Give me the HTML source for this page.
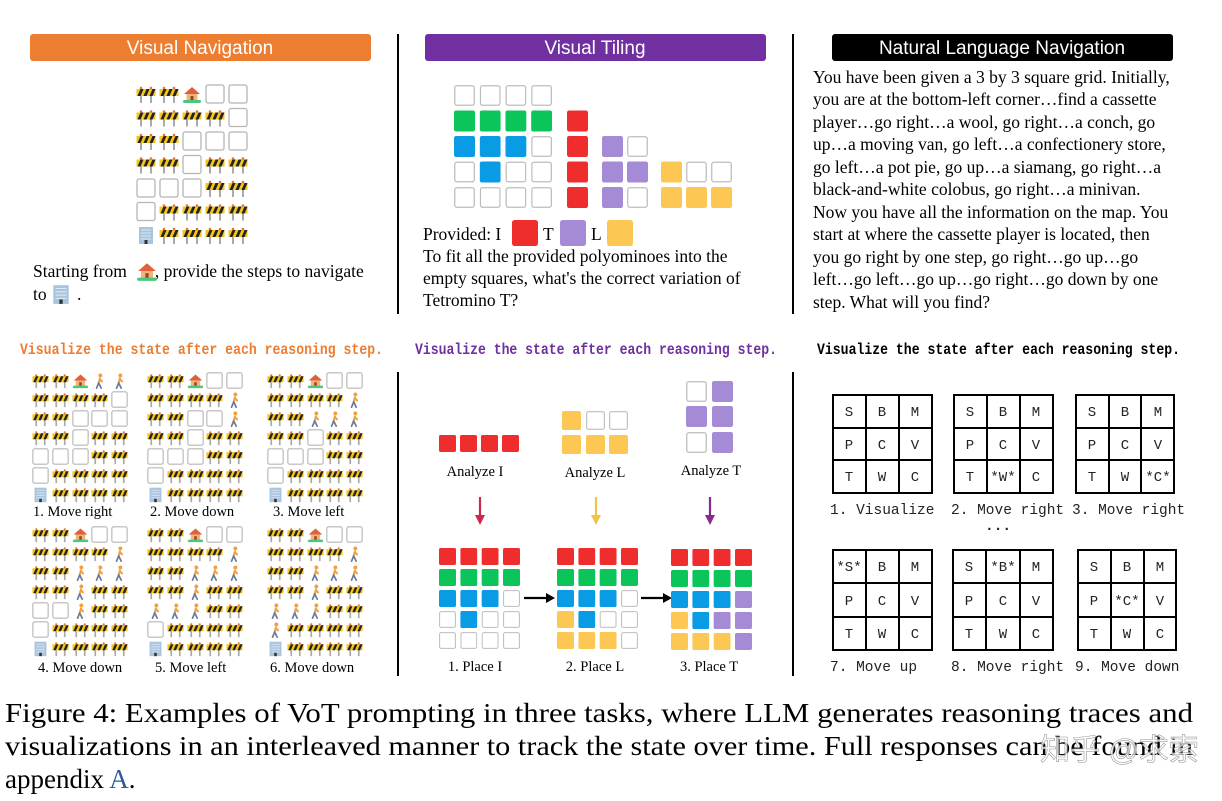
<!DOCTYPE html>
<html><head><meta charset="utf-8"><style>
html,body{margin:0;padding:0;background:#fff;}
svg{display:block;}
.s{font-family:"Liberation Serif",serif;}
.m{font-family:"Liberation Mono",monospace;}
</style></head><body>
<svg width="1222" height="801" viewBox="0 0 1222 801" xmlns="http://www.w3.org/2000/svg">
<defs>
<symbol id="e" viewBox="0 0 20 20"><rect x="1" y="1" width="18" height="18" rx="2" fill="#fff" stroke="#b5b5b5" stroke-width="1.3"/></symbol>
<symbol id="b" viewBox="0 0 20 20"><rect x="4" y="8" width="2" height="11" fill="#aaa"/><rect x="14" y="8" width="2" height="11" fill="#aaa"/><rect x="0.5" y="5" width="19" height="7" fill="#f5c518"/><path d="M1.5 12 L4.5 5 H7.5 L4.5 12Z M7.5 12 L10.5 5 H13.5 L10.5 12Z M13.5 12 L16.5 5 H19.5 L16.5 12Z" fill="#222"/><circle cx="5" cy="4" r="1.3" fill="#e8703a"/><circle cx="15" cy="4" r="1.3" fill="#e8703a"/></symbol>
<symbol id="h" viewBox="0 0 20 20"><path d="M2 10 L10 3 L18 10Z" fill="#e0603a"/><rect x="4.5" y="10" width="11" height="7" fill="#f3b27a"/><rect x="8.5" y="12" width="3" height="5" fill="#8a4b2a"/><rect x="1" y="16" width="18" height="3" rx="1.5" fill="#4cc77b"/></symbol>
<symbol id="p" viewBox="0 0 20 20"><circle cx="11" cy="4" r="2.3" fill="#f0a040"/><path d="M10.5 7.5 L9 13 M10.5 8.5 L13 11" stroke="#f0a040" stroke-width="2.4" fill="none" stroke-linecap="round"/><path d="M9 13 L6.5 19 M9 13 L12 19" stroke="#6a7a9a" stroke-width="2" fill="none" stroke-linecap="round"/></symbol>
<symbol id="o" viewBox="0 0 20 20"><rect x="3" y="2" width="14" height="17" fill="#a9c4dd"/><path d="M5 5H15M5 8H15M5 11H15M5 14H15" stroke="#dde9f4" stroke-width="1"/><rect x="8.5" y="15" width="3" height="4" fill="#333"/></symbol>
<symbol id="R" viewBox="0 0 20 20"><rect x="0" y="0" width="20" height="20" rx="2" fill="#f02d2d"/></symbol>
<symbol id="G" viewBox="0 0 20 20"><rect x="0" y="0" width="20" height="20" rx="2" fill="#0bc55b"/></symbol>
<symbol id="U" viewBox="0 0 20 20"><rect x="0" y="0" width="20" height="20" rx="2" fill="#0a9be5"/></symbol>
<symbol id="P" viewBox="0 0 20 20"><rect x="0" y="0" width="20" height="20" rx="2" fill="#a58bd6"/></symbol>
<symbol id="Y" viewBox="0 0 20 20"><rect x="0" y="0" width="20" height="20" rx="2" fill="#fcc753"/></symbol>
<symbol id="E" viewBox="0 0 20 20"><rect x="0.7" y="0.7" width="18.6" height="18.6" rx="2" fill="#fff" stroke="#bdbdbd" stroke-width="1.2"/></symbol>
</defs>

<rect x="30" y="34" width="341" height="27" rx="3" fill="#ed7d31"/>
<text x="200" y="54" text-anchor="middle" font-family="Liberation Sans, sans-serif" font-size="19" fill="#fff">Visual Navigation</text>
<rect x="425" y="34" width="341" height="27" rx="3" fill="#7030a0"/>
<text x="595" y="54" text-anchor="middle" font-family="Liberation Sans, sans-serif" font-size="19" fill="#fff">Visual Tiling</text>
<rect x="832" y="34" width="341" height="27" rx="3" fill="#000"/>
<text x="1002" y="54" text-anchor="middle" font-family="Liberation Sans, sans-serif" font-size="19" fill="#fff">Natural Language Navigation</text>

<line x1="398" y1="34" x2="398" y2="314" stroke="#000" stroke-width="2"/>
<line x1="793" y1="34" x2="793" y2="314" stroke="#000" stroke-width="2"/>
<line x1="398" y1="372" x2="398" y2="676" stroke="#000" stroke-width="2"/>
<line x1="793" y1="372" x2="793" y2="676" stroke="#000" stroke-width="2"/>

<g transform="translate(136,84)">
<use href="#b" x="0" y="0" width="20" height="20"/><use href="#b" x="23" y="0" width="20" height="20"/><use href="#h" x="46" y="0" width="20" height="20"/><use href="#e" x="69" y="0" width="20" height="20"/><use href="#e" x="92" y="0" width="20" height="20"/>
<use href="#b" x="0" y="23.5" width="20" height="20"/><use href="#b" x="23" y="23.5" width="20" height="20"/><use href="#b" x="46" y="23.5" width="20" height="20"/><use href="#b" x="69" y="23.5" width="20" height="20"/><use href="#e" x="92" y="23.5" width="20" height="20"/>
<use href="#b" x="0" y="47" width="20" height="20"/><use href="#b" x="23" y="47" width="20" height="20"/><use href="#e" x="46" y="47" width="20" height="20"/><use href="#e" x="69" y="47" width="20" height="20"/><use href="#e" x="92" y="47" width="20" height="20"/>
<use href="#b" x="0" y="70.5" width="20" height="20"/><use href="#b" x="23" y="70.5" width="20" height="20"/><use href="#e" x="46" y="70.5" width="20" height="20"/><use href="#b" x="69" y="70.5" width="20" height="20"/><use href="#b" x="92" y="70.5" width="20" height="20"/>
<use href="#e" x="0" y="94" width="20" height="20"/><use href="#e" x="23" y="94" width="20" height="20"/><use href="#e" x="46" y="94" width="20" height="20"/><use href="#b" x="69" y="94" width="20" height="20"/><use href="#b" x="92" y="94" width="20" height="20"/>
<use href="#e" x="0" y="117.5" width="20" height="20"/><use href="#b" x="23" y="117.5" width="20" height="20"/><use href="#b" x="46" y="117.5" width="20" height="20"/><use href="#b" x="69" y="117.5" width="20" height="20"/><use href="#b" x="92" y="117.5" width="20" height="20"/>
<use href="#o" x="0" y="141" width="20" height="20"/><use href="#b" x="23" y="141" width="20" height="20"/><use href="#b" x="46" y="141" width="20" height="20"/><use href="#b" x="69" y="141" width="20" height="20"/><use href="#b" x="92" y="141" width="20" height="20"/>
</g>
<text class="s" x="33" y="277" font-size="17.5">Starting from<tspan dx="28">, provide the steps to navigate</tspan></text>
<use href="#h" x="136" y="260" width="22" height="22"/>
<text class="s" x="33" y="300" font-size="17.5">to <tspan dx="26">.</tspan></text>
<use href="#o" x="50" y="283" width="22" height="22"/>

<g transform="translate(454,85)">
<use href="#E" x="0" y="0" width="21" height="21"/><use href="#E" x="25.7" y="0" width="21" height="21"/><use href="#E" x="51.4" y="0" width="21" height="21"/><use href="#E" x="77.1" y="0" width="21" height="21"/>
<use href="#G" x="0" y="25.5" width="21" height="21"/><use href="#G" x="25.7" y="25.5" width="21" height="21"/><use href="#G" x="51.4" y="25.5" width="21" height="21"/><use href="#G" x="77.1" y="25.5" width="21" height="21"/>
<use href="#U" x="0" y="51" width="21" height="21"/><use href="#U" x="25.7" y="51" width="21" height="21"/><use href="#U" x="51.4" y="51" width="21" height="21"/><use href="#E" x="77.1" y="51" width="21" height="21"/>
<use href="#E" x="0" y="76.5" width="21" height="21"/><use href="#U" x="25.7" y="76.5" width="21" height="21"/><use href="#E" x="51.4" y="76.5" width="21" height="21"/><use href="#E" x="77.1" y="76.5" width="21" height="21"/>
<use href="#E" x="0" y="102" width="21" height="21"/><use href="#E" x="25.7" y="102" width="21" height="21"/><use href="#E" x="51.4" y="102" width="21" height="21"/><use href="#E" x="77.1" y="102" width="21" height="21"/>
<use href="#R" x="113" y="25.5" width="21" height="21"/><use href="#R" x="113" y="51" width="21" height="21"/><use href="#R" x="113" y="76.5" width="21" height="21"/><use href="#R" x="113" y="102" width="21" height="21"/>
<use href="#P" x="148" y="51" width="21" height="21"/><use href="#E" x="173" y="51" width="21" height="21"/>
<use href="#P" x="148" y="76.5" width="21" height="21"/><use href="#P" x="173" y="76.5" width="21" height="21"/>
<use href="#P" x="148" y="102" width="21" height="21"/><use href="#E" x="173" y="102" width="21" height="21"/>
<use href="#Y" x="207" y="76.5" width="21" height="21"/><use href="#E" x="232" y="76.5" width="21" height="21"/><use href="#E" x="257" y="76.5" width="21" height="21"/>
<use href="#Y" x="207" y="102" width="21" height="21"/><use href="#Y" x="232" y="102" width="21" height="21"/><use href="#Y" x="257" y="102" width="21" height="21"/>
</g>
<text class="s" x="423" y="240" font-size="17.5">Provided: I</text>
<use href="#R" x="512" y="220" width="26" height="26"/>
<text class="s" x="543" y="240" font-size="17.5">T</text>
<use href="#P" x="560" y="220" width="26" height="26"/>
<text class="s" x="591" y="240" font-size="17.5">L</text>
<use href="#Y" x="607" y="220" width="26" height="26"/>
<text class="s" x="423" y="262" font-size="17.5">To fit all the provided polyominoes into the</text>
<text class="s" x="423" y="284" font-size="17.5">empty squares, what's the correct variation of</text>
<text class="s" x="423" y="306" font-size="17.5">Tetromino T?</text>

<g class="s" font-size="17.5">
<text x="813" y="83">You have been given a 3 by 3 square grid. Initially,</text>
<text x="813" y="105">you are at the bottom-left corner…find a cassette</text>
<text x="813" y="128">player…go right…a wool, go right…a conch, go</text>
<text x="813" y="150">up…a moving van, go left…a confectionery store,</text>
<text x="813" y="173">go left…a pot pie, go up…a siamang, go right…a</text>
<text x="813" y="195">black-and-white colobus, go right…a minivan.</text>
<text x="813" y="218">Now you have all the information on the map. You</text>
<text x="813" y="240">start at where the cassette player is located, then</text>
<text x="813" y="263">you go right by one step, go right…go up…go</text>
<text x="813" y="285">left…go left…go up…go right…go down by one</text>
<text x="813" y="308">step. What will you find?</text>
</g>

<text class="m" x="20" y="354" font-size="15.5" font-weight="bold" fill="#ed7d31" textLength="363" lengthAdjust="spacingAndGlyphs">Visualize the state after each reasoning step.</text>
<text class="m" x="415" y="354" font-size="15.5" font-weight="bold" fill="#7030a0" textLength="362" lengthAdjust="spacingAndGlyphs">Visualize the state after each reasoning step.</text>
<text class="m" x="817" y="354" font-size="15.5" font-weight="bold" fill="#000" textLength="363" lengthAdjust="spacingAndGlyphs">Visualize the state after each reasoning step.</text>

<g transform="translate(32,372)">
<use href="#b" x="0" y="0" width="17" height="17"/><use href="#b" x="20" y="0" width="17" height="17"/><use href="#h" x="40" y="0" width="17" height="17"/><use href="#p" x="59" y="0" width="17" height="17"/><use href="#p" x="79" y="0" width="17" height="17"/>
<use href="#b" x="0" y="19" width="17" height="17"/><use href="#b" x="20" y="19" width="17" height="17"/><use href="#b" x="40" y="19" width="17" height="17"/><use href="#b" x="59" y="19" width="17" height="17"/><use href="#e" x="79" y="19" width="17" height="17"/>
<use href="#b" x="0" y="38" width="17" height="17"/><use href="#b" x="20" y="38" width="17" height="17"/><use href="#e" x="40" y="38" width="17" height="17"/><use href="#e" x="59" y="38" width="17" height="17"/><use href="#e" x="79" y="38" width="17" height="17"/>
<use href="#b" x="0" y="57" width="17" height="17"/><use href="#b" x="20" y="57" width="17" height="17"/><use href="#e" x="40" y="57" width="17" height="17"/><use href="#b" x="59" y="57" width="17" height="17"/><use href="#b" x="79" y="57" width="17" height="17"/>
<use href="#e" x="0" y="76" width="17" height="17"/><use href="#e" x="20" y="76" width="17" height="17"/><use href="#e" x="40" y="76" width="17" height="17"/><use href="#b" x="59" y="76" width="17" height="17"/><use href="#b" x="79" y="76" width="17" height="17"/>
<use href="#e" x="0" y="95" width="17" height="17"/><use href="#b" x="20" y="95" width="17" height="17"/><use href="#b" x="40" y="95" width="17" height="17"/><use href="#b" x="59" y="95" width="17" height="17"/><use href="#b" x="79" y="95" width="17" height="17"/>
<use href="#o" x="0" y="114" width="17" height="17"/><use href="#b" x="20" y="114" width="17" height="17"/><use href="#b" x="40" y="114" width="17" height="17"/><use href="#b" x="59" y="114" width="17" height="17"/><use href="#b" x="79" y="114" width="17" height="17"/>
</g>
<g transform="translate(147,372)">
<use href="#b" x="0" y="0" width="17" height="17"/><use href="#b" x="20" y="0" width="17" height="17"/><use href="#h" x="40" y="0" width="17" height="17"/><use href="#e" x="59" y="0" width="17" height="17"/><use href="#e" x="79" y="0" width="17" height="17"/>
<use href="#b" x="0" y="19" width="17" height="17"/><use href="#b" x="20" y="19" width="17" height="17"/><use href="#b" x="40" y="19" width="17" height="17"/><use href="#b" x="59" y="19" width="17" height="17"/><use href="#p" x="79" y="19" width="17" height="17"/>
<use href="#b" x="0" y="38" width="17" height="17"/><use href="#b" x="20" y="38" width="17" height="17"/><use href="#e" x="40" y="38" width="17" height="17"/><use href="#e" x="59" y="38" width="17" height="17"/><use href="#p" x="79" y="38" width="17" height="17"/>
<use href="#b" x="0" y="57" width="17" height="17"/><use href="#b" x="20" y="57" width="17" height="17"/><use href="#e" x="40" y="57" width="17" height="17"/><use href="#b" x="59" y="57" width="17" height="17"/><use href="#b" x="79" y="57" width="17" height="17"/>
<use href="#e" x="0" y="76" width="17" height="17"/><use href="#e" x="20" y="76" width="17" height="17"/><use href="#e" x="40" y="76" width="17" height="17"/><use href="#b" x="59" y="76" width="17" height="17"/><use href="#b" x="79" y="76" width="17" height="17"/>
<use href="#e" x="0" y="95" width="17" height="17"/><use href="#b" x="20" y="95" width="17" height="17"/><use href="#b" x="40" y="95" width="17" height="17"/><use href="#b" x="59" y="95" width="17" height="17"/><use href="#b" x="79" y="95" width="17" height="17"/>
<use href="#o" x="0" y="114" width="17" height="17"/><use href="#b" x="20" y="114" width="17" height="17"/><use href="#b" x="40" y="114" width="17" height="17"/><use href="#b" x="59" y="114" width="17" height="17"/><use href="#b" x="79" y="114" width="17" height="17"/>
</g>
<g transform="translate(267,372)">
<use href="#b" x="0" y="0" width="17" height="17"/><use href="#b" x="20" y="0" width="17" height="17"/><use href="#h" x="40" y="0" width="17" height="17"/><use href="#e" x="59" y="0" width="17" height="17"/><use href="#e" x="79" y="0" width="17" height="17"/>
<use href="#b" x="0" y="19" width="17" height="17"/><use href="#b" x="20" y="19" width="17" height="17"/><use href="#b" x="40" y="19" width="17" height="17"/><use href="#b" x="59" y="19" width="17" height="17"/><use href="#p" x="79" y="19" width="17" height="17"/>
<use href="#b" x="0" y="38" width="17" height="17"/><use href="#b" x="20" y="38" width="17" height="17"/><use href="#p" x="40" y="38" width="17" height="17"/><use href="#p" x="59" y="38" width="17" height="17"/><use href="#p" x="79" y="38" width="17" height="17"/>
<use href="#b" x="0" y="57" width="17" height="17"/><use href="#b" x="20" y="57" width="17" height="17"/><use href="#e" x="40" y="57" width="17" height="17"/><use href="#b" x="59" y="57" width="17" height="17"/><use href="#b" x="79" y="57" width="17" height="17"/>
<use href="#e" x="0" y="76" width="17" height="17"/><use href="#e" x="20" y="76" width="17" height="17"/><use href="#e" x="40" y="76" width="17" height="17"/><use href="#b" x="59" y="76" width="17" height="17"/><use href="#b" x="79" y="76" width="17" height="17"/>
<use href="#e" x="0" y="95" width="17" height="17"/><use href="#b" x="20" y="95" width="17" height="17"/><use href="#b" x="40" y="95" width="17" height="17"/><use href="#b" x="59" y="95" width="17" height="17"/><use href="#b" x="79" y="95" width="17" height="17"/>
<use href="#o" x="0" y="114" width="17" height="17"/><use href="#b" x="20" y="114" width="17" height="17"/><use href="#b" x="40" y="114" width="17" height="17"/><use href="#b" x="59" y="114" width="17" height="17"/><use href="#b" x="79" y="114" width="17" height="17"/>
</g>
<g transform="translate(32,526)">
<use href="#b" x="0" y="0" width="17" height="17"/><use href="#b" x="20" y="0" width="17" height="17"/><use href="#h" x="40" y="0" width="17" height="17"/><use href="#e" x="59" y="0" width="17" height="17"/><use href="#e" x="79" y="0" width="17" height="17"/>
<use href="#b" x="0" y="19" width="17" height="17"/><use href="#b" x="20" y="19" width="17" height="17"/><use href="#b" x="40" y="19" width="17" height="17"/><use href="#b" x="59" y="19" width="17" height="17"/><use href="#p" x="79" y="19" width="17" height="17"/>
<use href="#b" x="0" y="38" width="17" height="17"/><use href="#b" x="20" y="38" width="17" height="17"/><use href="#p" x="40" y="38" width="17" height="17"/><use href="#p" x="59" y="38" width="17" height="17"/><use href="#p" x="79" y="38" width="17" height="17"/>
<use href="#b" x="0" y="57" width="17" height="17"/><use href="#b" x="20" y="57" width="17" height="17"/><use href="#p" x="40" y="57" width="17" height="17"/><use href="#b" x="59" y="57" width="17" height="17"/><use href="#b" x="79" y="57" width="17" height="17"/>
<use href="#e" x="0" y="76" width="17" height="17"/><use href="#e" x="20" y="76" width="17" height="17"/><use href="#p" x="40" y="76" width="17" height="17"/><use href="#b" x="59" y="76" width="17" height="17"/><use href="#b" x="79" y="76" width="17" height="17"/>
<use href="#e" x="0" y="95" width="17" height="17"/><use href="#b" x="20" y="95" width="17" height="17"/><use href="#b" x="40" y="95" width="17" height="17"/><use href="#b" x="59" y="95" width="17" height="17"/><use href="#b" x="79" y="95" width="17" height="17"/>
<use href="#o" x="0" y="114" width="17" height="17"/><use href="#b" x="20" y="114" width="17" height="17"/><use href="#b" x="40" y="114" width="17" height="17"/><use href="#b" x="59" y="114" width="17" height="17"/><use href="#b" x="79" y="114" width="17" height="17"/>
</g>
<g transform="translate(147,526)">
<use href="#b" x="0" y="0" width="17" height="17"/><use href="#b" x="20" y="0" width="17" height="17"/><use href="#h" x="40" y="0" width="17" height="17"/><use href="#e" x="59" y="0" width="17" height="17"/><use href="#e" x="79" y="0" width="17" height="17"/>
<use href="#b" x="0" y="19" width="17" height="17"/><use href="#b" x="20" y="19" width="17" height="17"/><use href="#b" x="40" y="19" width="17" height="17"/><use href="#b" x="59" y="19" width="17" height="17"/><use href="#p" x="79" y="19" width="17" height="17"/>
<use href="#b" x="0" y="38" width="17" height="17"/><use href="#b" x="20" y="38" width="17" height="17"/><use href="#p" x="40" y="38" width="17" height="17"/><use href="#p" x="59" y="38" width="17" height="17"/><use href="#p" x="79" y="38" width="17" height="17"/>
<use href="#b" x="0" y="57" width="17" height="17"/><use href="#b" x="20" y="57" width="17" height="17"/><use href="#p" x="40" y="57" width="17" height="17"/><use href="#b" x="59" y="57" width="17" height="17"/><use href="#b" x="79" y="57" width="17" height="17"/>
<use href="#p" x="0" y="76" width="17" height="17"/><use href="#p" x="20" y="76" width="17" height="17"/><use href="#p" x="40" y="76" width="17" height="17"/><use href="#b" x="59" y="76" width="17" height="17"/><use href="#b" x="79" y="76" width="17" height="17"/>
<use href="#e" x="0" y="95" width="17" height="17"/><use href="#b" x="20" y="95" width="17" height="17"/><use href="#b" x="40" y="95" width="17" height="17"/><use href="#b" x="59" y="95" width="17" height="17"/><use href="#b" x="79" y="95" width="17" height="17"/>
<use href="#o" x="0" y="114" width="17" height="17"/><use href="#b" x="20" y="114" width="17" height="17"/><use href="#b" x="40" y="114" width="17" height="17"/><use href="#b" x="59" y="114" width="17" height="17"/><use href="#b" x="79" y="114" width="17" height="17"/>
</g>
<g transform="translate(267,526)">
<use href="#b" x="0" y="0" width="17" height="17"/><use href="#b" x="20" y="0" width="17" height="17"/><use href="#h" x="40" y="0" width="17" height="17"/><use href="#e" x="59" y="0" width="17" height="17"/><use href="#e" x="79" y="0" width="17" height="17"/>
<use href="#b" x="0" y="19" width="17" height="17"/><use href="#b" x="20" y="19" width="17" height="17"/><use href="#b" x="40" y="19" width="17" height="17"/><use href="#b" x="59" y="19" width="17" height="17"/><use href="#p" x="79" y="19" width="17" height="17"/>
<use href="#b" x="0" y="38" width="17" height="17"/><use href="#b" x="20" y="38" width="17" height="17"/><use href="#p" x="40" y="38" width="17" height="17"/><use href="#p" x="59" y="38" width="17" height="17"/><use href="#p" x="79" y="38" width="17" height="17"/>
<use href="#b" x="0" y="57" width="17" height="17"/><use href="#b" x="20" y="57" width="17" height="17"/><use href="#p" x="40" y="57" width="17" height="17"/><use href="#b" x="59" y="57" width="17" height="17"/><use href="#b" x="79" y="57" width="17" height="17"/>
<use href="#p" x="0" y="76" width="17" height="17"/><use href="#p" x="20" y="76" width="17" height="17"/><use href="#p" x="40" y="76" width="17" height="17"/><use href="#b" x="59" y="76" width="17" height="17"/><use href="#b" x="79" y="76" width="17" height="17"/>
<use href="#p" x="0" y="95" width="17" height="17"/><use href="#b" x="20" y="95" width="17" height="17"/><use href="#b" x="40" y="95" width="17" height="17"/><use href="#b" x="59" y="95" width="17" height="17"/><use href="#b" x="79" y="95" width="17" height="17"/>
<use href="#o" x="0" y="114" width="17" height="17"/><use href="#b" x="20" y="114" width="17" height="17"/><use href="#b" x="40" y="114" width="17" height="17"/><use href="#b" x="59" y="114" width="17" height="17"/><use href="#b" x="79" y="114" width="17" height="17"/>
</g>
<g class="s" font-size="14.5">
<text x="33" y="516">1. Move right</text>
<text x="150" y="516">2. Move down</text>
<text x="273" y="516">3. Move left</text>
<text x="38" y="672">4. Move down</text>
<text x="155" y="672">5. Move left</text>
<text x="270" y="672">6. Move down</text>
</g>

<use href="#R" x="439" y="435" width="17" height="17"/><use href="#R" x="460" y="435" width="17" height="17"/><use href="#R" x="481" y="435" width="17" height="17"/><use href="#R" x="502" y="435" width="17" height="17"/>
<use href="#Y" x="562" y="411" width="19" height="19"/><use href="#E" x="586" y="411" width="19" height="19"/><use href="#E" x="609" y="411" width="19" height="19"/>
<use href="#Y" x="562" y="435" width="19" height="19"/><use href="#Y" x="586" y="435" width="19" height="19"/><use href="#Y" x="609" y="435" width="19" height="19"/>
<use href="#E" x="686" y="381" width="21" height="21"/><use href="#P" x="712" y="381" width="21" height="21"/>
<use href="#P" x="686" y="406" width="21" height="21"/><use href="#P" x="712" y="406" width="21" height="21"/>
<use href="#E" x="686" y="432" width="21" height="21"/><use href="#P" x="712" y="432" width="21" height="21"/>
<g class="s" font-size="14.5" text-anchor="middle">
<text x="475" y="476">Analyze I</text>
<text x="595" y="477">Analyze L</text>
<text x="711" y="475">Analyze T</text>
</g>
<g stroke-width="2.2">
<line x1="480" y1="497" x2="480" y2="518" stroke="#d0284a"/><path d="M475 515 L480 525 L485 515Z" fill="#d0284a"/>
<line x1="596" y1="497" x2="596" y2="518" stroke="#f5c04a"/><path d="M591 515 L596 525 L601 515Z" fill="#f5c04a"/>
<line x1="710" y1="497" x2="710" y2="518" stroke="#8a2a8a"/><path d="M705 515 L710 525 L715 515Z" fill="#8a2a8a"/>
<line x1="524" y1="598" x2="548" y2="598" stroke="#000"/><path d="M546 593 L555 598 L546 603Z" fill="#000"/>
<line x1="641" y1="598" x2="665" y2="598" stroke="#000"/><path d="M663 593 L672 598 L663 603Z" fill="#000"/>
</g>
<g transform="translate(439,548)">
<use href="#R" x="0" y="0" width="17" height="17"/><use href="#R" x="21.3" y="0" width="17" height="17"/><use href="#R" x="42.6" y="0" width="17" height="17"/><use href="#R" x="64" y="0" width="17" height="17"/>
<use href="#G" x="0" y="21" width="17" height="17"/><use href="#G" x="21.3" y="21" width="17" height="17"/><use href="#G" x="42.6" y="21" width="17" height="17"/><use href="#G" x="64" y="21" width="17" height="17"/>
<use href="#U" x="0" y="42" width="17" height="17"/><use href="#U" x="21.3" y="42" width="17" height="17"/><use href="#U" x="42.6" y="42" width="17" height="17"/><use href="#E" x="64" y="42" width="17" height="17"/>
<use href="#E" x="0" y="63" width="17" height="17"/><use href="#U" x="21.3" y="63" width="17" height="17"/><use href="#E" x="42.6" y="63" width="17" height="17"/><use href="#E" x="64" y="63" width="17" height="17"/>
<use href="#E" x="0" y="84" width="17" height="17"/><use href="#E" x="21.3" y="84" width="17" height="17"/><use href="#E" x="42.6" y="84" width="17" height="17"/><use href="#E" x="64" y="84" width="17" height="17"/>
</g>
<g transform="translate(557,548)">
<use href="#R" x="0" y="0" width="17" height="17"/><use href="#R" x="21.3" y="0" width="17" height="17"/><use href="#R" x="42.6" y="0" width="17" height="17"/><use href="#R" x="64" y="0" width="17" height="17"/>
<use href="#G" x="0" y="21" width="17" height="17"/><use href="#G" x="21.3" y="21" width="17" height="17"/><use href="#G" x="42.6" y="21" width="17" height="17"/><use href="#G" x="64" y="21" width="17" height="17"/>
<use href="#U" x="0" y="42" width="17" height="17"/><use href="#U" x="21.3" y="42" width="17" height="17"/><use href="#U" x="42.6" y="42" width="17" height="17"/><use href="#E" x="64" y="42" width="17" height="17"/>
<use href="#Y" x="0" y="63" width="17" height="17"/><use href="#U" x="21.3" y="63" width="17" height="17"/><use href="#E" x="42.6" y="63" width="17" height="17"/><use href="#E" x="64" y="63" width="17" height="17"/>
<use href="#Y" x="0" y="84" width="17" height="17"/><use href="#Y" x="21.3" y="84" width="17" height="17"/><use href="#Y" x="42.6" y="84" width="17" height="17"/><use href="#E" x="64" y="84" width="17" height="17"/>
</g>
<g transform="translate(671,549)">
<use href="#R" x="0" y="0" width="17" height="17"/><use href="#R" x="21.3" y="0" width="17" height="17"/><use href="#R" x="42.6" y="0" width="17" height="17"/><use href="#R" x="64" y="0" width="17" height="17"/>
<use href="#G" x="0" y="21" width="17" height="17"/><use href="#G" x="21.3" y="21" width="17" height="17"/><use href="#G" x="42.6" y="21" width="17" height="17"/><use href="#G" x="64" y="21" width="17" height="17"/>
<use href="#U" x="0" y="42" width="17" height="17"/><use href="#U" x="21.3" y="42" width="17" height="17"/><use href="#U" x="42.6" y="42" width="17" height="17"/><use href="#P" x="64" y="42" width="17" height="17"/>
<use href="#Y" x="0" y="63" width="17" height="17"/><use href="#U" x="21.3" y="63" width="17" height="17"/><use href="#P" x="42.6" y="63" width="17" height="17"/><use href="#P" x="64" y="63" width="17" height="17"/>
<use href="#Y" x="0" y="84" width="17" height="17"/><use href="#Y" x="21.3" y="84" width="17" height="17"/><use href="#Y" x="42.6" y="84" width="17" height="17"/><use href="#P" x="64" y="84" width="17" height="17"/>
</g>
<g class="s" font-size="14.5" text-anchor="middle">
<text x="475" y="671">1. Place I</text>
<text x="595" y="671">2. Place L</text>
<text x="709" y="671">3. Place T</text>
</g>

<g fill="none" stroke="#000" stroke-width="2">
<rect x="833" y="395" width="99" height="98"/><path d="M866 395V493M899 395V493M833 428H932M833 460H932"/>
<rect x="954" y="395" width="99" height="98"/><path d="M987 395V493M1020 395V493M954 428H1053M954 460H1053"/>
<rect x="1076" y="395" width="98" height="98"/><path d="M1109 395V493M1141 395V493M1076 428H1174M1076 460H1174"/>
<rect x="833" y="550" width="99" height="100"/><path d="M866 550V650M899 550V650M833 583H932M833 617H932"/>
<rect x="953" y="550" width="100" height="100"/><path d="M986 550V650M1020 550V650M953 583H1053M953 617H1053"/>
<rect x="1078" y="550" width="98" height="100"/><path d="M1111 550V650M1144 550V650M1078 583H1176M1078 617H1176"/>
</g>
<g class="m" font-size="14" text-anchor="middle" fill="#222">
<text x="849" y="416">S</text><text x="882" y="416">B</text><text x="915" y="416">M</text>
<text x="849" y="449">P</text><text x="882" y="449">C</text><text x="915" y="449">V</text>
<text x="849" y="481">T</text><text x="882" y="481">W</text><text x="915" y="481">C</text>
<text x="970" y="416">S</text><text x="1003" y="416">B</text><text x="1036" y="416">M</text>
<text x="970" y="449">P</text><text x="1003" y="449">C</text><text x="1036" y="449">V</text>
<text x="970" y="481">T</text><text x="1003" y="481">*W*</text><text x="1036" y="481">C</text>
<text x="1092" y="416">S</text><text x="1125" y="416">B</text><text x="1158" y="416">M</text>
<text x="1092" y="449">P</text><text x="1125" y="449">C</text><text x="1158" y="449">V</text>
<text x="1092" y="481">T</text><text x="1125" y="481">W</text><text x="1158" y="481">*C*</text>
<text x="849" y="571">*S*</text><text x="882" y="571">B</text><text x="915" y="571">M</text>
<text x="849" y="605">P</text><text x="882" y="605">C</text><text x="915" y="605">V</text>
<text x="849" y="638">T</text><text x="882" y="638">W</text><text x="915" y="638">C</text>
<text x="969" y="571">S</text><text x="1003" y="571">*B*</text><text x="1036" y="571">M</text>
<text x="969" y="605">P</text><text x="1003" y="605">C</text><text x="1036" y="605">V</text>
<text x="969" y="638">T</text><text x="1003" y="638">W</text><text x="1036" y="638">C</text>
<text x="1094" y="571">S</text><text x="1127" y="571">B</text><text x="1160" y="571">M</text>
<text x="1094" y="605">P</text><text x="1127" y="605">*C*</text><text x="1160" y="605">V</text>
<text x="1094" y="638">T</text><text x="1127" y="638">W</text><text x="1160" y="638">C</text>
</g>
<g class="m" font-size="14.5" fill="#222">
<text x="830" y="514">1. Visualize</text>
<text x="951" y="514">2. Move right</text>
<text x="1072" y="514">3. Move right</text>
<text x="985" y="530" font-weight="bold">...</text>
<text x="830" y="671">7. Move up</text>
<text x="951" y="671">8. Move right</text>
<text x="1075" y="671">9. Move down</text>
</g>

<g class="s" font-size="27">
<text x="5" y="722" textLength="1188" lengthAdjust="spacingAndGlyphs">Figure 4: Examples of VoT prompting in three tasks, where LLM generates reasoning traces and</text>
<text x="5" y="755" textLength="1188" lengthAdjust="spacingAndGlyphs">visualizations in an interleaved manner to track the state over time. Full responses can be found in</text>
<text x="5" y="788">appendix <tspan fill="#2e5a9a">A</tspan>.</text>
</g>
<text x="1040" y="760" font-family="Liberation Sans, 'Noto Sans CJK SC', sans-serif" font-size="30" fill="#fff" fill-opacity="0.75" stroke="#999" stroke-width="0.6">知乎 @求索</text>
</svg>
</body></html>
